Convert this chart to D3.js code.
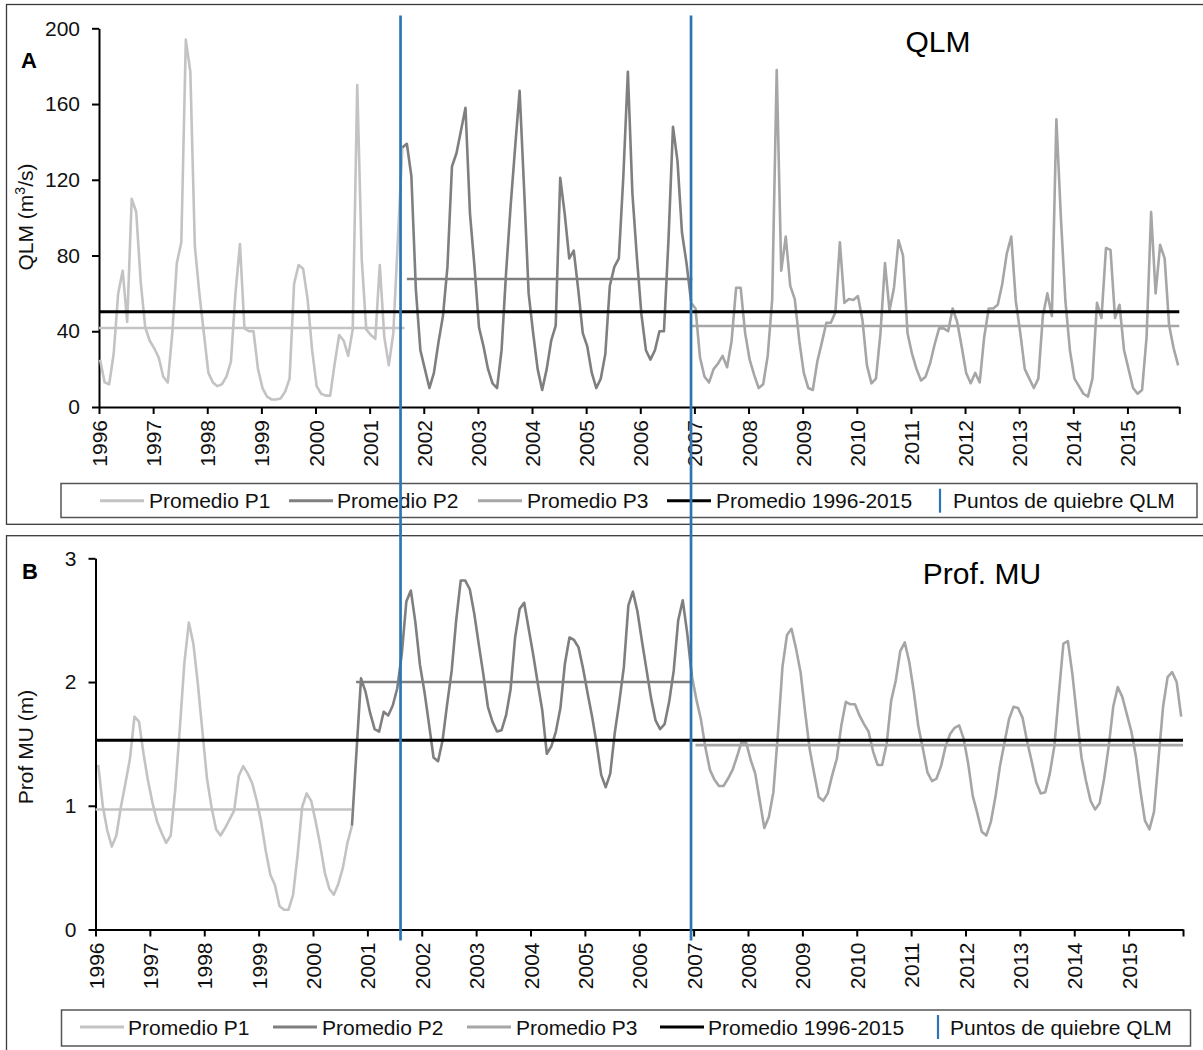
<!DOCTYPE html>
<html><head><meta charset="utf-8">
<script src="https://cdn.jsdelivr.net/npm/d3@7"></script>
<style>
html,body{margin:0;padding:0;background:#fff;}
svg{display:block;font-family:"Liberation Sans",Arial,sans-serif;}
</style></head><body>
<svg id="chart" width="1203" height="1050"></svg>
<script>
// ---------- DATA ----------
const yearLabels = ["1996","1997","1998","1999","2000","2001","2002","2003","2004","2005",
                    "2006","2007","2008","2009","2010","2011","2012","2013","2014","2015"];
const legendLabels = ["Promedio P1","Promedio P2","Promedio P3","Promedio 1996-2015","Puntos de quiebre QLM"];

// Panel A : QLM (m3/s), monthly values, month index 0 = Jan 1996
const qlmP1Start = 0;
const qlmP1 = [25,13,12,28,60,72,45,110,103,66,
  42,35,31,26,16,13,39,76,87,194,
  177,85,60,39,18,13,11,12,16,24,
  60,86,41.5,40,40,20,10,5.5,4,4,
  4.5,8,15,65,75,73,57,30,11,7,
  6,6,23,38,35,27,41,170,78,41,
  38,36,75,37,22,39,88,137];
const qlmP2Start = 67;
const qlmP2 = [137,139,122,62,30,20,10,18,34,48,
  74,127,134,146,158,102,74,42,32,20,
  12.5,10,30,71,106,137,167,115,60,39,
  20,9,20,35,43,121,102,78.5,82.6,62,
  39,32,18,10,15,28,64,74,78.5,122,
  177,113,79,49,30,25,30,40,40,88,
  148,130,92,76,56];
const qlmP3Start = 131;
const qlmP3 = [55,52,26,16,13,20,23,27,21,35,
  63,63,39,25,17,10,12,27,57,178,
  72,90,64,57,35,18,10,9,24,34,
  44.5,44.5,50,87,55,57,56.5,58.6,46,22,
  12.5,15,39,76,51,63,88,80,39,28,
  20,14,16,23,33,41.5,41.5,40,52,45,
  32,18,12.5,18,13,37,52,52,54,65,
  81,90,56,39,20,15,10,15,48,60,
  48,152,100,56,30,15,11,7,5.5,15,
  55,47,84,83,47,54,30,20,10,7,
  9,37,103,60,85.6,78.5,43,31,22];
const qlmMeans = [41.7, 67.6, 42.8];
const qlmMeanFrom = [-0.25, 68, 131.2];
const qlmMeanTo = [67.5, 131.3, 239.25];
const qlmOverall = 50.3;

// Panel B : Prof. MU (m)
const muP1Start = 0;
const muP1 = [1.33,1.00,0.80,0.67,0.76,0.99,1.18,1.38,1.72,1.68,
  1.42,1.20,1.02,0.87,0.78,0.70,0.76,1.13,1.62,2.15,
  2.48,2.31,1.98,1.60,1.22,0.99,0.81,0.76,0.82,0.89,
  0.96,1.24,1.32,1.26,1.18,1.04,0.86,0.63,0.44,0.36,
  0.19,0.16,0.16,0.28,0.60,0.99,1.10,1.04,0.87,0.68,
  0.46,0.33,0.28,0.37,0.50,0.70,0.84];
const muP2Start = 56;
const muP2 = [0.84,1.44,2.03,1.92,1.75,1.62,1.60,1.76,1.73,1.81,
  1.95,2.23,2.65,2.74,2.48,2.14,1.92,1.66,1.39,1.36,
  1.53,1.82,2.09,2.50,2.82,2.82,2.75,2.55,2.30,2.06,
  1.80,1.68,1.60,1.61,1.73,1.94,2.36,2.59,2.64,2.43,
  2.22,1.99,1.77,1.42,1.48,1.60,1.79,2.15,2.36,2.34,
  2.28,2.11,1.91,1.72,1.50,1.25,1.15,1.26,1.59,1.84,
  2.12,2.62,2.73,2.57,2.33,2.10,1.87,1.69,1.62,1.66,
  1.84,2.09,2.50,2.66,2.39,2.05];
const muP3Start = 131;
const muP3 = [2.05,1.86,1.70,1.47,1.29,1.21,1.16,1.16,1.22,1.29,
  1.40,1.52,1.51,1.37,1.26,1.04,0.82,0.91,1.11,1.58,
  2.12,2.38,2.43,2.27,2.08,1.76,1.46,1.26,1.07,1.04,
  1.10,1.25,1.38,1.65,1.84,1.82,1.82,1.73,1.66,1.60,
  1.44,1.33,1.33,1.50,1.85,2.01,2.25,2.32,2.16,1.92,
  1.64,1.46,1.27,1.20,1.22,1.32,1.48,1.58,1.63,1.65,
  1.54,1.34,1.08,0.94,0.79,0.76,0.87,1.07,1.32,1.51,
  1.70,1.80,1.79,1.71,1.52,1.36,1.19,1.10,1.11,1.26,
  1.48,1.90,2.31,2.33,2.06,1.72,1.39,1.20,1.04,0.97,
  1.02,1.22,1.48,1.80,1.96,1.88,1.74,1.60,1.40,1.12,
  0.88,0.81,0.95,1.38,1.80,2.04,2.08,2.00,1.72];
const muMeans = [0.97, 2.00, 1.49];
const muMeanFrom = [-0.6, 56.9, 131.8];
const muMeanTo = [55.9, 130.7, 239.4];
const muOverall = 1.53;

// break points (month index, on panel A's time scale)
const breakMonths = [66.6, 131.0];

// ---------- STYLE ----------
const colP1 = "#c3c3c3", colP2 = "#7f7f7f", colP3 = "#a6a6a6", colAll = "#000000", colBreak = "#2e75b6";
const seriesColors = [colP1, colP2, colP3];

const svg = d3.select("#chart");

function pts(vals, start){ return vals.map((v,k)=>[start+k, v]); }

function drawPanel(cfg){
  const g = svg.append("g");
  g.append("rect").attr("x",6.5).attr("y",cfg.frameTop).attr("width",1210).attr("height",cfg.frameH)
    .attr("fill","none").attr("stroke","#3a3a3a").attr("stroke-width",1.3);

  const x = d3.scaleLinear().domain(cfg.xDomain).range(cfg.xRange);
  const y = d3.scaleLinear().domain(cfg.yDomain).range(cfg.yRange);

  const tickVals = yearLabels.map((d,k)=>cfg.xDomain[0]+12*k);
  tickVals.push(cfg.xDomain[1]);
  const xAxis = d3.axisBottom(x).tickValues(tickVals).tickSize(7).tickSizeOuter(0)
    .tickFormat((d,k)=> k < yearLabels.length ? yearLabels[k] : "");
  const gx = g.append("g").attr("transform",`translate(0,${cfg.yRange[0]})`).call(xAxis);
  gx.selectAll("text").attr("transform","rotate(-90)").attr("x",-13).attr("y",0).attr("dy","0.36em")
    .style("text-anchor","end").style("font-size","21px").attr("fill","#111");
  const yAxis = d3.axisLeft(y).tickValues(cfg.yTicks).tickSize(7).tickPadding(12).tickSizeOuter(0)
    .tickFormat(d3.format("d"));
  const gy = g.append("g").attr("transform",`translate(${cfg.xRange[0]},0)`).call(yAxis);
  gy.selectAll("text").style("font-size","21px").attr("fill","#111");
  [gx,gy].forEach(a=>{
    a.selectAll(".domain,.tick line").attr("stroke","#000").attr("stroke-width",2);
    a.attr("font-family",null);
  });

  const line = d3.line().x(d=>x(d[0])).y(d=>y(d[1]));
  cfg.means.forEach((m,k)=>{
    g.append("line").attr("x1",x(cfg.meanFrom[k])).attr("x2",x(cfg.meanTo[k]))
      .attr("y1",y(m)).attr("y2",y(m)).attr("stroke",seriesColors[k]).attr("stroke-width",2.6);
  });
  cfg.series.forEach((s,k)=>{
    g.append("path").datum(pts(s.vals,s.start)).attr("d",line).attr("fill","none")
      .attr("stroke",seriesColors[k]).attr("stroke-width",2.6).attr("stroke-linejoin","round");
  });
  g.append("line").attr("x1",x(cfg.xDomain[0])).attr("x2",x(cfg.xDomain[1]))
    .attr("y1",y(cfg.overall)).attr("y2",y(cfg.overall)).attr("stroke",colAll).attr("stroke-width",3);

  g.append("text").attr("x",cfg.title[1]).attr("y",cfg.title[2]).attr("text-anchor","middle")
    .style("font-size","30px").attr("fill","#000").text(cfg.title[0]);
  g.append("text").attr("x",cfg.letter[1]).attr("y",cfg.letter[2])
    .style("font-size","22px").style("font-weight","bold").attr("fill","#000").text(cfg.letter[0]);
  const yt = g.append("text").attr("transform",`translate(${cfg.yTitlePos[0]},${cfg.yTitlePos[1]}) rotate(-90)`)
    .attr("text-anchor","middle").attr("dy","0.35em").style("font-size","21px").attr("fill","#111");
  cfg.yTitle(yt);

  const L = cfg.legend;
  g.append("rect").attr("x",L.box[0]).attr("y",L.box[1]).attr("width",L.box[2]).attr("height",L.box[3])
    .attr("fill","#fff").attr("stroke","#555").attr("stroke-width",1.5);
  const legCols = [colP1,colP2,colP3,colAll];
  legCols.forEach((c,k)=>{
    g.append("line").attr("x1",L.samples[k]).attr("x2",L.samples[k]+44).attr("y1",L.lineY).attr("y2",L.lineY)
      .attr("stroke",c).attr("stroke-width",3);
  });
  g.append("line").attr("x1",L.blueX).attr("x2",L.blueX).attr("y1",L.lineY-12).attr("y2",L.lineY+12)
    .attr("stroke",colBreak).attr("stroke-width",2.2);
  legendLabels.forEach((t,k)=>{
    g.append("text").attr("x",L.texts[k]).attr("y",L.baseY).style("font-size","21px").attr("fill","#111").text(t);
  });
  return {x,y};
}

const A = drawPanel({
  frameTop:4.5, frameH:519.8,
  xDomain:[-0.25,239.25], xRange:[99,1179.3],
  yDomain:[0,200], yRange:[407,28.3], yTicks:[0,40,80,120,160,200],
  series:[{vals:qlmP1,start:qlmP1Start},{vals:qlmP2,start:qlmP2Start},{vals:qlmP3,start:qlmP3Start}],
  means:qlmMeans, meanFrom:qlmMeanFrom, meanTo:qlmMeanTo, overall:qlmOverall,
  title:["QLM",938,51.5], letter:["A",21,68], yTitlePos:[26,217],
  yTitle: t=>{ t.append("tspan").text("QLM (m"); t.append("tspan").attr("baseline-shift","super").style("font-size","14px").text("3"); t.append("tspan").text("/s)"); },
  legend:{box:[61,483.5,1136,34], samples:[100,289,478,667], texts:[149,337,527,716,953], blueX:940, lineY:500.7, baseY:508}
});

const B = drawPanel({
  frameTop:535.7, frameH:600,
  xDomain:[-0.6,239.4], xRange:[95.5,1183],
  yDomain:[0,3], yRange:[929.5,558.3], yTicks:[0,1,2,3],
  series:[{vals:muP1,start:muP1Start},{vals:muP2,start:muP2Start},{vals:muP3,start:muP3Start}],
  means:muMeans, meanFrom:muMeanFrom, meanTo:muMeanTo, overall:muOverall,
  title:["Prof. MU",982,584], letter:["B",22,579], yTitlePos:[26,747],
  yTitle: t=>{ t.text("Prof MU (m)"); },
  legend:{box:[61.5,1010,1129,36], samples:[80,273,467,660], texts:[128,322,516,708,950], blueX:938, lineY:1027, baseY:1034.5}
});

svg.append("g").selectAll("line").data(breakMonths).join("line")
  .attr("x1",d=>A.x(d)).attr("x2",d=>A.x(d)).attr("y1",15.5).attr("y2",940.5)
  .attr("stroke",colBreak).attr("stroke-width",2.7);
</script>
</body></html>
